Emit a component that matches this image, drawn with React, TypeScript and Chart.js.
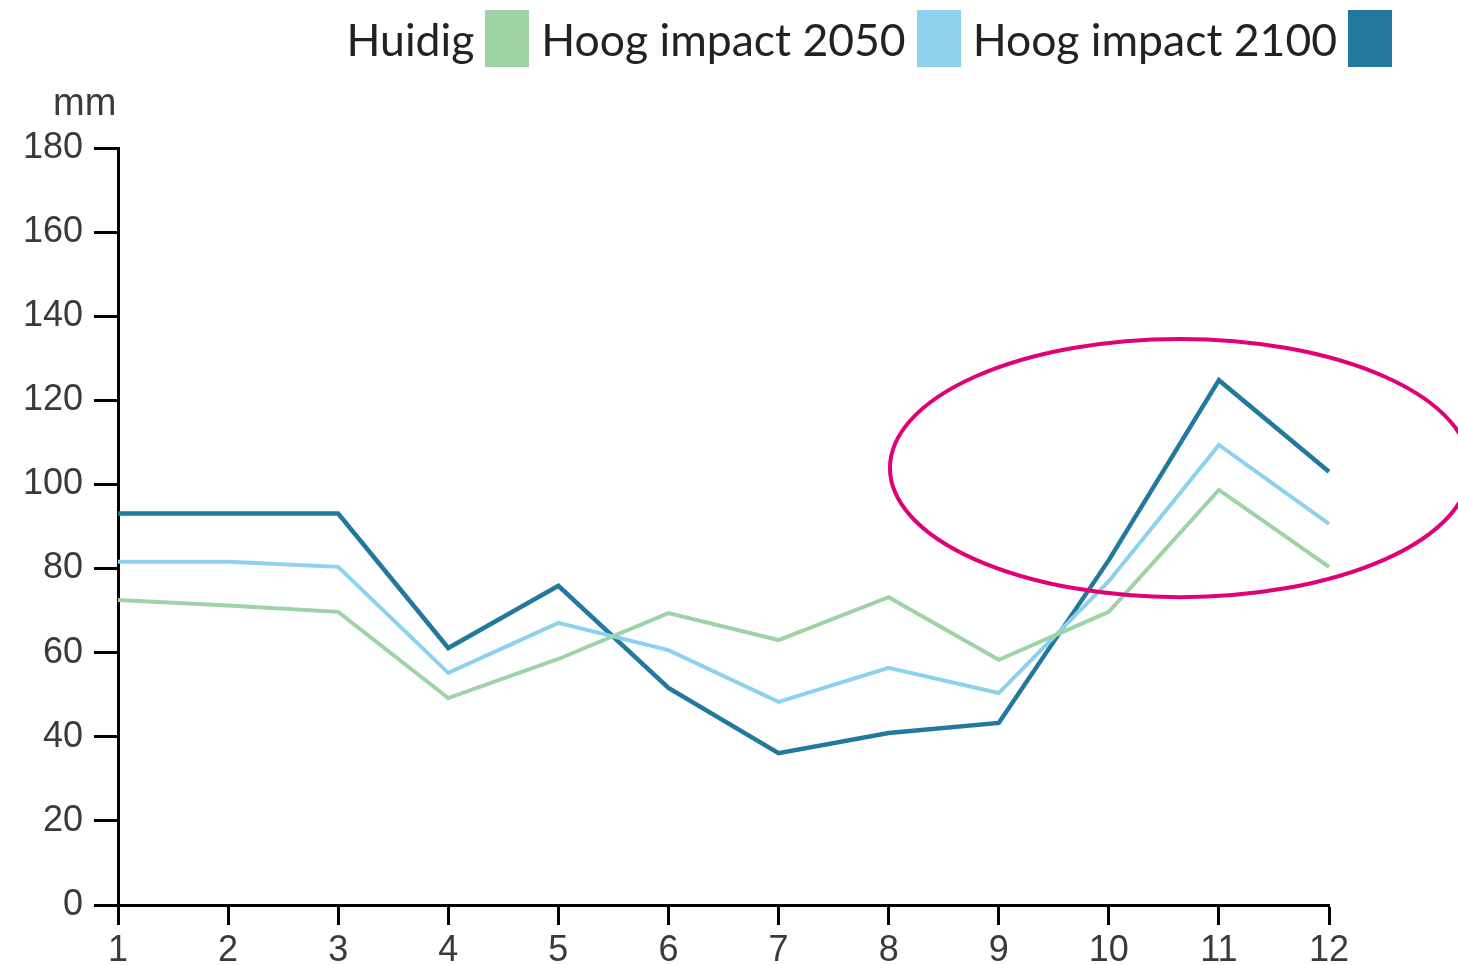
import React, { useEffect, useRef } from "react";
import { Chart, registerables } from "chart.js";

Chart.register(...registerables);

const months = ["1", "2", "3", "4", "5", "6", "7", "8", "9", "10", "11", "12"];
const huidig = [72.5, 71.2, 69.7, 49.2, 58.5, 69.4, 63.0, 73.2, 58.3, 69.7, 98.7, 80.4];
const hoog2050 = [81.6, 81.6, 80.4, 55.2, 67.1, 60.6, 48.3, 56.4, 50.4, 77.0, 109.4, 90.6];
const hoog2100 = [93.1, 93.1, 93.1, 61.1, 75.9, 51.6, 36.1, 40.9, 43.3, 82.0, 124.8, 103.0];
const yTicks = [0, 20, 40, 60, 80, 100, 120, 140, 160, 180];

const seriesNames = ["Huidig", "Hoog impact 2050", "Hoog impact 2100"];
const seriesColors = ["#9dd3a5", "#8ed1ee", "#23799d"];

// highlight ellipse in data units (category index, value)
const ellipseCenter = [9.646, 103.9];
const ellipseRadius = [2.634, 30.7];

const ellipsePlugin = {
  id: "ellipse",
  afterDatasetsDraw(chart: any) {
    const { ctx, scales } = chart;
    const x = scales.x;
    const y = scales.y;
    const cx = x.getPixelForValue(ellipseCenter[0]);
    const cy = y.getPixelForValue(ellipseCenter[1]);
    const rx = x.getPixelForValue(ellipseCenter[0] + ellipseRadius[0]) - cx;
    const ry = cy - y.getPixelForValue(ellipseCenter[1] + ellipseRadius[1]);
    ctx.save();
    ctx.beginPath();
    ctx.ellipse(cx, cy, rx, ry, 0, 0, Math.PI * 2);
    ctx.strokeStyle = "#e2007a";
    ctx.lineWidth = 4;
    ctx.stroke();
    ctx.restore();
  },
};

export default function App() {
  const ref = useRef<HTMLCanvasElement | null>(null);
  useEffect(() => {
    if (!ref.current) return;
    const data = [huidig, hoog2050, hoog2100];
    const chart = new Chart(ref.current, {
      type: "line",
      data: {
        labels: months,
        datasets: data.map((d, i) => ({
          label: seriesNames[i],
          data: d,
          borderColor: seriesColors[i],
          backgroundColor: seriesColors[i],
          borderWidth: i === 2 ? 4.5 : 4,
          pointRadius: 0,
          tension: 0,
          fill: false,
        })),
      },
      options: {
        animation: false,
        responsive: false,
        maintainAspectRatio: false,
        layout: { padding: { left: 0, top: 148, right: 129, bottom: 0 } },
        plugins: { legend: { display: false }, tooltip: { enabled: false } },
        scales: {
          x: {
            type: "category",
            offset: false,
            afterFit: (s: any) => {
              s.height = 60;
            },
            grid: {
              display: true,
              drawOnChartArea: false,
              drawTicks: true,
              tickLength: 20,
              tickWidth: 3,
              tickColor: "#000",
            },
            border: { display: true, color: "#000", width: 3 },
            ticks: {
              color: "#3a3a3a",
              font: { family: "Liberation Sans", size: 36 },
              padding: 4,
              maxRotation: 0,
              autoSkip: false,
            },
          },
          y: {
            min: 0,
            max: 180,
            afterFit: (s: any) => {
              s.width = 118;
            },
            afterBuildTicks: (s: any) => {
              s.ticks = yTicks.map((v) => ({ value: v }));
            },
            grid: {
              display: true,
              drawOnChartArea: false,
              drawTicks: true,
              tickLength: 24,
              tickWidth: 3,
              tickColor: "#000",
            },
            border: { display: true, color: "#000", width: 3 },
            ticks: {
              color: "#3a3a3a",
              font: { family: "Liberation Sans", size: 36 },
              padding: 11,
            },
          },
        },
      },
      plugins: [ellipsePlugin],
    });
    return () => chart.destroy();
  }, []);

  const legendItem = (name: string, color: string, ml: number) => (
    <div key={name} style={{ display: "flex", alignItems: "center", marginLeft: ml }}>
      <span style={{ fontFamily: "Lato, sans-serif", fontSize: 44.5, color: "#222", lineHeight: "57px" }}>
        {name}
      </span>
      <span style={{ display: "inline-block", width: 44, height: 57, background: color, marginLeft: 11 }} />
    </div>
  );

  return (
    <div style={{ position: "absolute", left: 0, top: 0, width: 1458, height: 965, background: "#fff", overflow: "hidden" }}>
      <canvas ref={ref} width={1458} height={965} style={{ position: "absolute", left: 0, top: 0 }} />
      <div
        style={{
          position: "absolute",
          right: 66,
          top: 10,
          height: 57,
          display: "flex",
          alignItems: "center",
        }}
      >
        {seriesNames.map((n, i) => legendItem(n, seriesColors[i], i === 0 ? 0 : 12))}
      </div>
      <div
        style={{
          position: "absolute",
          left: 53,
          top: 81,
          fontFamily: "Liberation Sans, Arial, sans-serif",
          fontSize: 38,
          color: "#3a3a3a",
        }}
      >
        mm
      </div>
    </div>
  );
}
